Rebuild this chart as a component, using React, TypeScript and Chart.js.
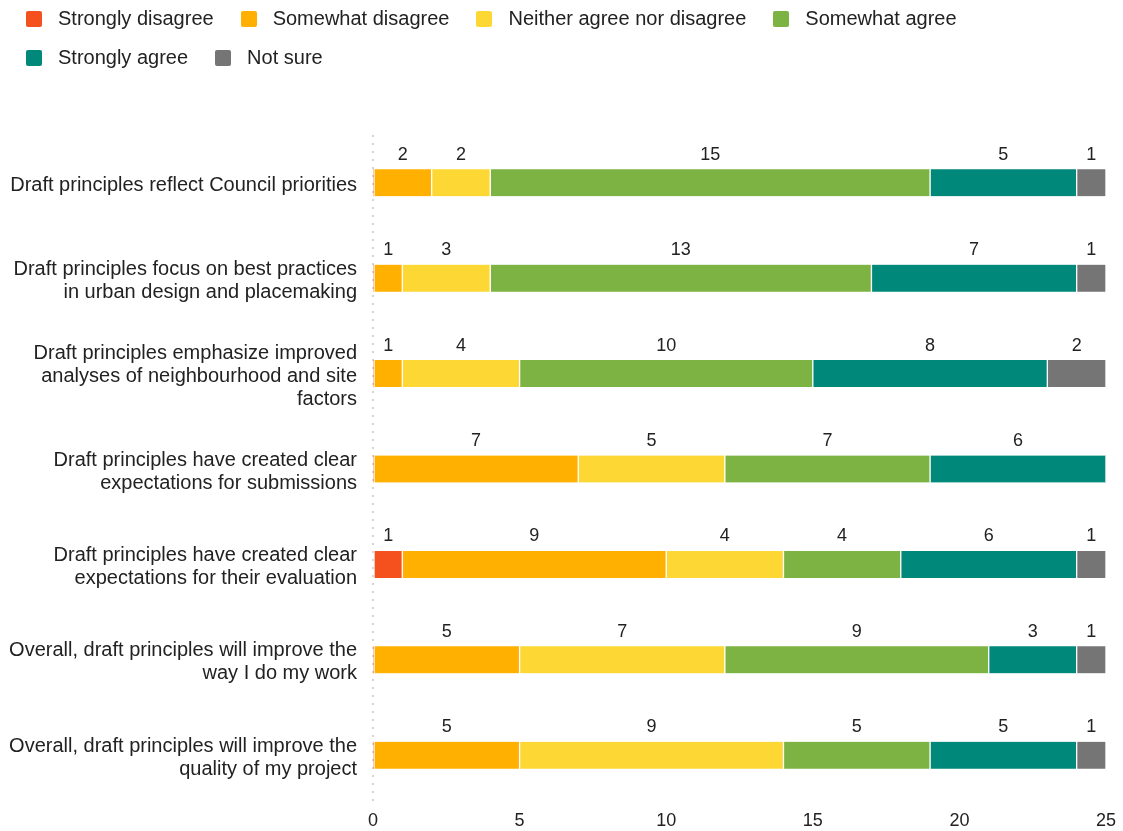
import React, { useEffect, useRef } from "react";
import { Chart, registerables } from "chart.js";

Chart.register(...registerables);

const categories: string[][] = [
  ["Draft principles reflect Council priorities"],
  ["Draft principles focus on best practices", "in urban design and placemaking"],
  ["Draft principles emphasize improved", "analyses of neighbourhood and site", "factors"],
  ["Draft principles have created clear", "expectations for submissions"],
  ["Draft principles have created clear", "expectations for their evaluation"],
  ["Overall, draft principles will improve the", "way I do my work"],
  ["Overall, draft principles will improve the", "quality of my project"],
];

const seriesNames = [
  "Strongly disagree",
  "Somewhat disagree",
  "Neither agree nor disagree",
  "Somewhat agree",
  "Strongly agree",
  "Not sure",
];

const stronglyDisagree = [0, 0, 0, 0, 1, 0, 0];
const somewhatDisagree = [2, 1, 1, 7, 9, 5, 5];
const neitherAgree = [2, 3, 4, 5, 4, 7, 9];
const somewhatAgree = [15, 13, 10, 7, 4, 9, 5];
const stronglyAgree = [5, 7, 8, 6, 6, 3, 5];
const notSure = [1, 1, 2, 0, 1, 1, 1];

const seriesValues = [
  stronglyDisagree,
  somewhatDisagree,
  neitherAgree,
  somewhatAgree,
  stronglyAgree,
  notSure,
];

const seriesColors = ["#F4511E", "#FFB000", "#FDD835", "#7CB342", "#00897B", "#757575"];

const xTickValues = [0, 5, 10, 15, 20, 25];

const FONT = '"Liberation Sans", Arial, sans-serif';
const TEXT_COLOR = "#222222";

const valueLabelPlugin = {
  id: "valueLabels",
  afterDatasetsDraw(chart: any) {
    const ctx = chart.ctx;
    ctx.save();
    ctx.font = `18px ${FONT}`;
    ctx.fillStyle = TEXT_COLOR;
    ctx.textAlign = "center";
    ctx.textBaseline = "middle";
    chart.data.datasets.forEach((ds: any, di: number) => {
      const meta = chart.getDatasetMeta(di);
      meta.data.forEach((bar: any, i: number) => {
        const v = ds.data[i];
        if (!v) return;
        const cx = (bar.x + bar.base) / 2;
        ctx.fillText(String(v), cx, bar.y - 28);
      });
    });
    ctx.restore();
  },
};

export default function App() {
  const canvasRef = useRef<HTMLCanvasElement | null>(null);

  useEffect(() => {
    if (!canvasRef.current) return;
    Chart.defaults.font.family = FONT;
    const chart = new Chart(canvasRef.current, {
      type: "bar",
      data: {
        labels: categories,
        datasets: seriesNames.map((name, i) => ({
          label: name,
          data: seriesValues[i],
          backgroundColor: seriesColors[i],
          borderColor: "#ffffff",
          borderWidth: { left: 1, right: 1, top: 0, bottom: 0 },
          borderSkipped: false,
          barThickness: 27,
        })),
      },
      options: {
        indexAxis: "y",
        responsive: false,
        animation: false,
        layout: { padding: { top: 135, right: 17, bottom: 0, left: 0 } },
        plugins: {
          legend: { display: false },
          tooltip: { enabled: false },
        },
        scales: {
          x: {
            stacked: true,
            min: 0,
            max: 25,
            afterBuildTicks: (scale: any) => {
              scale.ticks = xTickValues.map((v) => ({ value: v }));
            },
            afterFit: (scale: any) => {
              scale.height = 28;
            },
            ticks: {
              color: TEXT_COLOR,
              font: { size: 18, family: FONT },
              padding: 7,
              maxRotation: 0,
            },
            grid: {
              drawTicks: false,
              lineWidth: 2,
              color: (c: any) => (c.tick && c.tick.value === 0 ? "#d4d4d4" : "rgba(0,0,0,0)"),
            },
            border: { display: false, dash: [2, 6] },
          },
          y: {
            stacked: true,
            afterFit: (scale: any) => {
              scale.width = 373;
            },
            ticks: {
              color: TEXT_COLOR,
              font: { size: 20, family: FONT, lineHeight: 1.15 },
              padding: 16,
              labelOffset: 2.5,
            },
            grid: { display: false, drawTicks: false },
            border: { display: false },
          },
        },
      },
      plugins: [valueLabelPlugin],
    } as any);
    return () => chart.destroy();
  }, []);

  return (
    <div style={{ position: "absolute", left: 0, top: 0, width: 1123, height: 831, background: "#fff" }}>
      <canvas ref={canvasRef} width={1123} height={831} style={{ position: "absolute", left: 0, top: 0 }} />
      <div
        style={{
          position: "absolute",
          left: 26,
          top: -1,
          width: 1080,
          display: "flex",
          flexWrap: "wrap",
          columnGap: 27,
          fontFamily: FONT,
          fontSize: 20,
          color: TEXT_COLOR,
        }}
      >
        {seriesNames.map((name, i) => (
          <div key={name} style={{ display: "flex", alignItems: "center", height: 39 }}>
            <span
              style={{
                display: "inline-block",
                width: 16,
                height: 16,
                borderRadius: 2,
                background: seriesColors[i],
                marginRight: 16,
              }}
            />
            <span>{name}</span>
          </div>
        ))}
      </div>
    </div>
  );
}
